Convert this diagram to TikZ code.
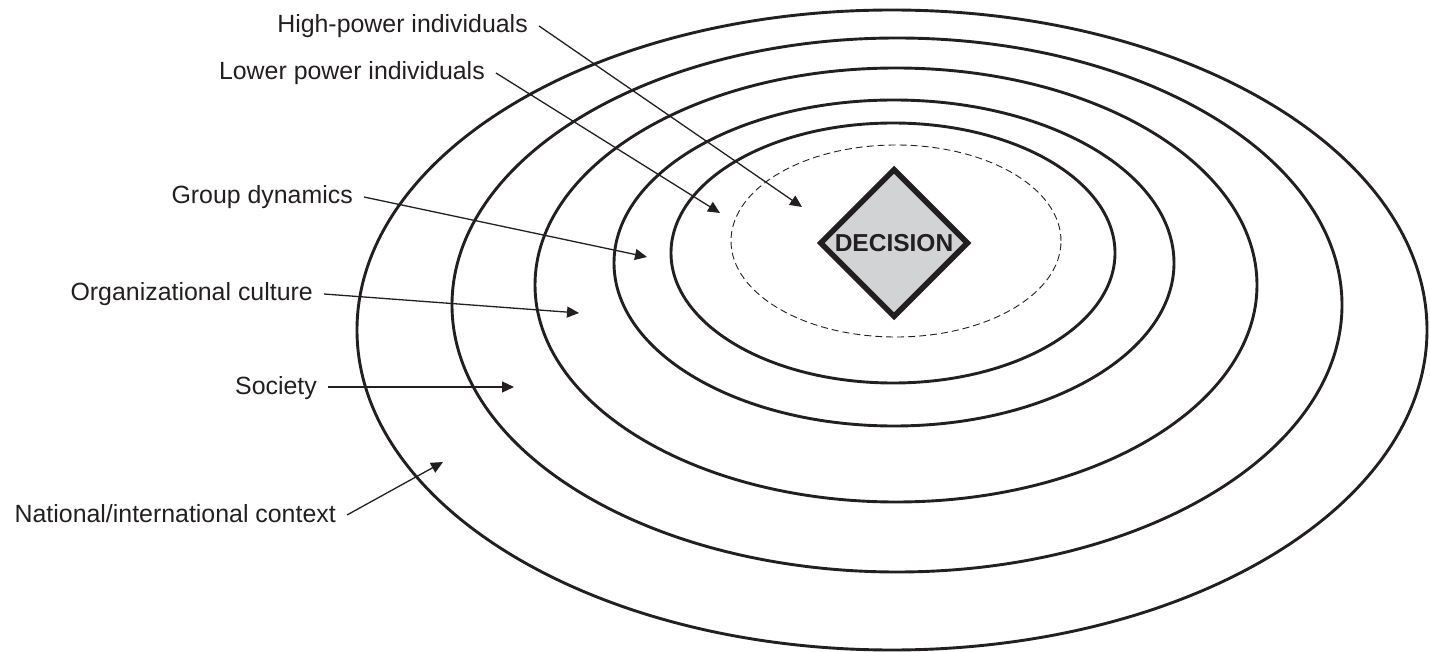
\documentclass[tikz,border=0pt]{standalone}
\usepackage{fontspec}
\setmainfont{Liberation Sans}
\usetikzlibrary{shapes.geometric,arrows.meta}
\definecolor{ink}{RGB}{35,31,32}
\definecolor{decgray}{RGB}{209,211,212}
\tikzset{
  ring/.style={draw=ink, line width=2.9pt},
  innerring/.style={draw=ink, line width=0.9pt, dash pattern=on 7pt off 4pt},
  lab/.style={font=\fontsize{24.9}{28}\selectfont, text=ink, anchor=base east,
    inner xsep=11pt, inner ysep=0pt, text height=14pt, text depth=0pt},
  pointer/.style={draw=ink, line width=1.3pt, -{Triangle[length=12pt,width=11pt]}},
  decbox/.style={diamond, draw=ink, fill=decgray, line width=5.5pt, inner sep=0pt,
    minimum width=149pt, minimum height=149pt, shape aspect=1,
    font=\bfseries\fontsize{24.5}{28}\selectfont, text=ink}
}
\begin{document}
\begin{tikzpicture}[x=1pt,y=-1pt]
\useasboundingbox (0,0) rectangle (1430,652);
% rings
\draw[ring] (892,330) ellipse [x radius=535pt, y radius=320pt];
\draw[ring] (897,305) ellipse [x radius=445pt, y radius=267pt];
\draw[ring] (896,285) ellipse [x radius=361pt, y radius=217pt];
\draw[ring] (894,263) ellipse [x radius=280pt, y radius=163pt];
\draw[ring] (893,253) ellipse [x radius=222pt, y radius=130pt];
\draw[innerring] (896,241) ellipse [x radius=165pt, y radius=96pt];
% decision
\node[decbox] (dec) at (894,243) {DECISION};
% labels
\node[lab] (hp) at (539,33) {High-power individuals};
\node[lab] (lp) at (496,80) {Lower power individuals};
\node[lab] (gd) at (364,204) {Group dynamics};
\node[lab] (oc) at (324,301) {Organizational culture};
\node[lab] (so) at (328,394) {Society};
\node[lab] (ni) at (347,522) {National/international context};
% targets
\coordinate (thp) at (802,207);
\coordinate (tlp) at (720,213);
\coordinate (tgd) at (647,257);
\coordinate (toc) at (579,313);
\coordinate (tso) at (514,387);
\coordinate (tni) at (443,462);
% pointers
\draw[pointer] (hp.east) -- (thp);
\draw[pointer] (lp.east) -- (tlp);
\draw[pointer] (gd.east) -- (tgd);
\draw[pointer] (oc.east) -- (toc);
\draw[pointer] (so.east) -- (tso);
\draw[pointer] (ni.east) -- (tni);
\end{tikzpicture}
\end{document}
